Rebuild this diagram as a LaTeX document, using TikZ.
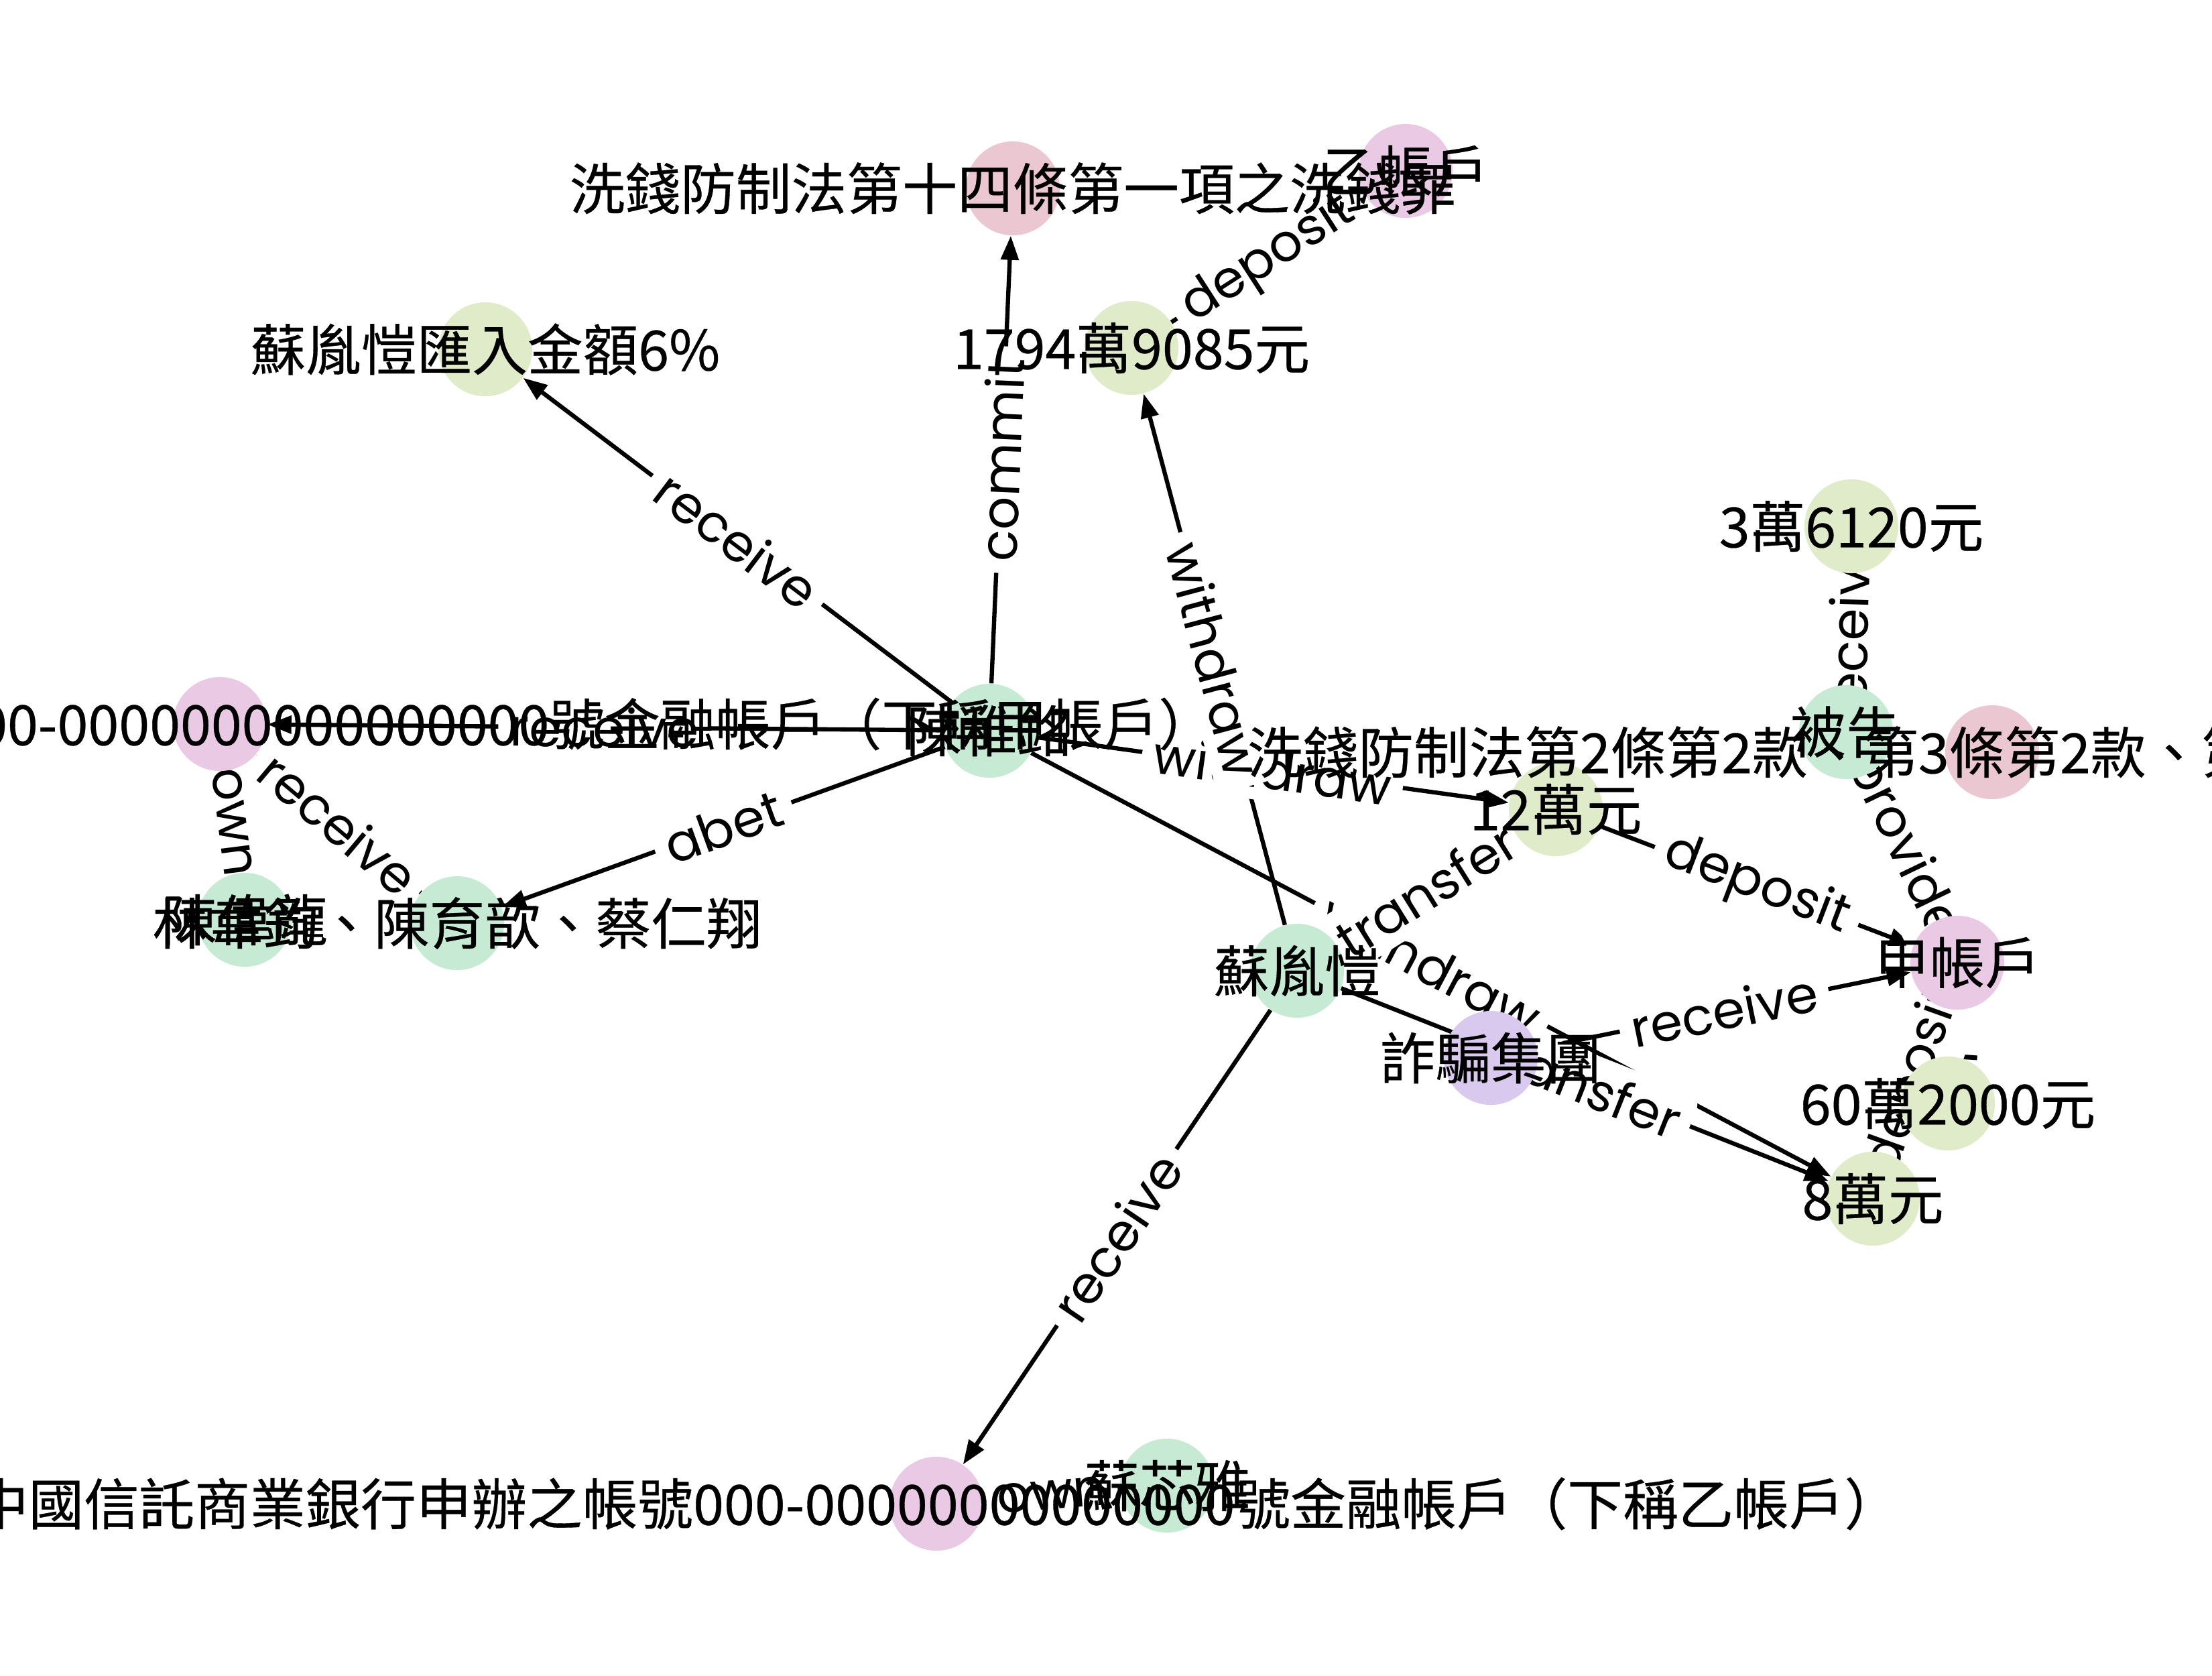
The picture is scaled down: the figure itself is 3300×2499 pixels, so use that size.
\documentclass[tikz,border=0pt]{standalone}
\usepackage{fontspec}
\setmainfont{Noto Sans CJK TC}[FakeBold=0.4]
\newfontfamily\geo{Poppins}
\usetikzlibrary{arrows.meta}
\pgfdeclarelayer{back}
\pgfsetlayers{back,main}
\definecolor{person}{HTML}{C6EAD3}
\definecolor{money}{HTML}{E0EBC9}
\definecolor{statute}{HTML}{EAC7D1}
\definecolor{account}{HTML}{E9C9E3}
\definecolor{gang}{HTML}{D9C9EE}
\tikzset{
  ent/.style={circle,fill=#1,minimum size=1.4cm,inner sep=0pt},
  nodetext/.style={font=\fontsize{23.5}{28}\selectfont,inner sep=0pt},
  rel/.style={-{Triangle[length=0.36cm,width=0.26cm]},line width=1.8pt},
  rellabel/.style={font=\geo\fontsize{22}{26}\selectfont,fill=white,inner sep=5pt,
    rounded corners=6pt,sloped,midway}
}

\begin{document}
\begin{tikzpicture}[x=0.01cm,y=-0.01cm]
  \useasboundingbox (0,0) rectangle (3300,2499);
  % circles
  \foreach \n/\c/\x/\y in {law14/statute/1511/281, accB/account/2097/255,
      pct6/money/724/521, amt1794/money/1688/519, amt36/money/2762/785,
      accA1/account/328/1080, chen/person/1476/1090, grp/person/682/1377,
      wei/person/365/1372, defd/person/2754/1092, law2/statute/2972/1122,
      amt12/money/2321/1207, su/person/1935/1448, gang/gang/2224/1578,
      accA/account/2920/1436, amt60/money/2906/1646, amt8/money/2794/1788,
      xinya/person/1741/2216, accB2/account/1397/2243}
    \node[ent=\c] (\n) at (\x,\y) {};
  % relations
  \begin{pgfonlayer}{back}
    \foreach \a/\b in {chen/law14, chen/pct6, chen/accA1, chen/grp, chen/amt12,
        chen/amt8, wei/accA1, grp/accA1, su/amt1794, su/amt12, su/amt8, su/accB2,
        amt1794/accB, amt12/accA, gang/accA, defd/amt36, defd/accA, amt60/accA,
        amt8/accA, xinya/accB2}
      \draw[rel] (\a) -- (\b);
    \foreach \a/\b/\t in {chen/law14/commit, chen/pct6/receive, chen/accA1/receive,
        chen/grp/abet, chen/amt12/withdraw, chen/amt8/withdraw, wei/accA1/own,
        grp/accA1/receive, su/amt1794/withdraw, su/amt12/transfer, su/amt8/transfer,
        su/accB2/receive, amt1794/accB/deposit, amt12/accA/deposit, gang/accA/receive,
        defd/amt36/receive, defd/accA/provide, amt60/accA/deposit, amt8/accA/deposit,
        xinya/accB2/own}
      \path (\a) -- (\b) node[rellabel] {\t};
  \end{pgfonlayer}
  % names
  \node[nodetext] (law14-t) at (law14) {洗錢防制法第十四條第一項之洗錢罪};
  \node[nodetext] (accB-t) at (accB) {乙帳戶};
  \node[nodetext] (pct6-t) at (pct6) {蘇胤愷匯入金額6\%};
  \node[nodetext] (amt1794-t) at (amt1794) {1794萬9085元};
  \node[nodetext] (amt36-t) at (amt36) {3萬6120元};
  \node[nodetext] (accA1-t) at (accA1) {中國信託商業銀行申辦之帳號000-0000000000000000號金融帳戶（下稱甲帳戶）};
  \node[nodetext] (chen-t) at (chen) {陳稚銘};
  \node[nodetext] (grp-t) at (grp) {林韋鈞、陳育歆、蔡仁翔};
  \node[nodetext] (wei-t) at (wei) {陳偉龍};
  \node[nodetext] (defd-t) at (defd) {被告};
  \node[nodetext] (law2-t) at (law2) {洗錢防制法第2條第2款、第3條第2款、第14條第1項之洗錢罪};
  \node[nodetext] (amt12-t) at (amt12) {12萬元};
  \node[nodetext] (su-t) at (su) {蘇胤愷};
  \node[nodetext] (gang-t) at (gang) {詐騙集團};
  \node[nodetext] (accA-t) at (accA) {甲帳戶};
  \node[nodetext] (amt60-t) at (amt60) {60萬2000元};
  \node[nodetext] (amt8-t) at (amt8) {8萬元};
  \node[nodetext] (xinya-t) at (xinya) {蘇芯雅};
  \node[nodetext] (accB2-t) at (accB2) {中國信託商業銀行申辦之帳號000-00000000000000號金融帳戶（下稱乙帳戶）};
\end{tikzpicture}
\end{document}
